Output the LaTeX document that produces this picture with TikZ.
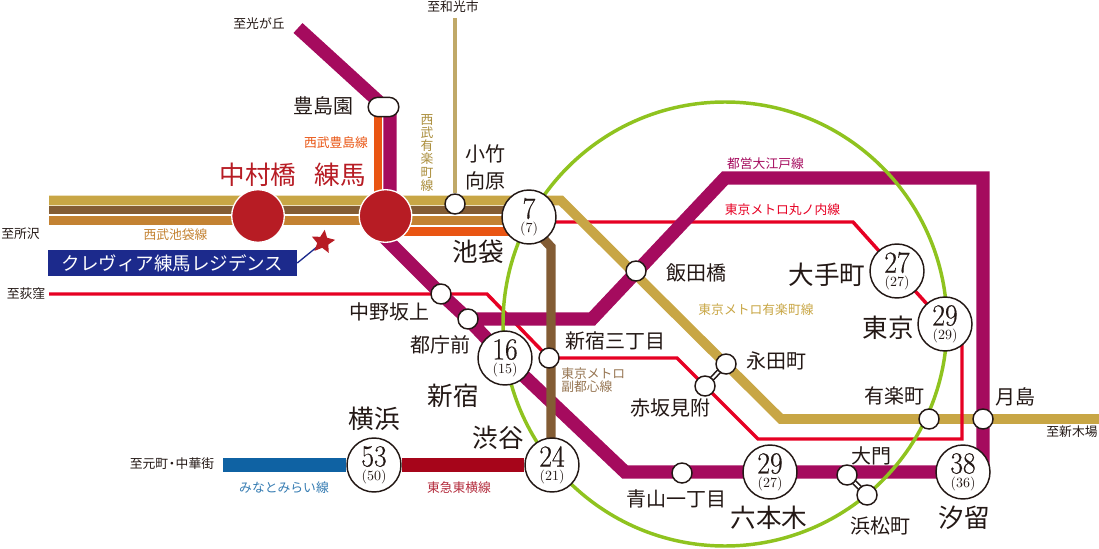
\documentclass[tikz,border=0pt]{standalone}
\usepackage{fontspec}
\usepackage{graphicx}
\usetikzlibrary{shapes.geometric,shapes.misc}
\newfontfamily\cjk{Noto Sans CJK JP}
\newfontfamily\numf{Latin Modern Roman}[FakeBold=0.5]
\definecolor{oedo}{HTML}{A50B5E}
\definecolor{yur}{HTML}{C8A645}
\definecolor{fuku}{HTML}{835C34}
\definecolor{ike}{HTML}{C38232}
\definecolor{toshi}{HTML}{E95513}
\definecolor{maru}{HTML}{E60023}
\definecolor{yama}{HTML}{8FC31F}
\definecolor{mm}{HTML}{0F62A3}
\definecolor{toyoko}{HTML}{A6051A}
\definecolor{hero}{HTML}{B71C24}
\definecolor{boxblue}{HTML}{1C2A8C}
\definecolor{inktxt}{HTML}{231815}
\newcommand{\pxf}[1]{\cjk\fontsize{#1}{#1}\selectfont}
\newcommand{\stnum}[2]{\scalebox{.9}[1]{\numf\fontsize{23}{23}\selectfont #1}\\[-1.6pt]{\fontsize{10.5}{10.5}\selectfont #2}}
\pgfdeclarelayer{lines}
\pgfsetlayers{lines,main}
\tikzset{
  x=.75pt,y=-.75pt,
  bigst/.style={circle,draw=inktxt,line width=1.1pt,fill=white,minimum size=40.5pt,inner sep=0pt,align=center,text=inktxt},
  smallst/.style={circle,draw=inktxt,line width=1.1pt,fill=white,minimum size=15pt,inner sep=0pt},
  herost/.style={circle,draw=white,line width=1pt,fill=hero,minimum size=39.5pt,inner sep=0pt},
  lbla/.style={font=\pxf{19.2},text=inktxt,inner sep=0pt},
  lblb/.style={font=\pxf{15},text=inktxt,inner sep=0pt},
  lblc/.style={font=\pxf{9.6},text=inktxt,inner sep=0pt},
  lnlbl/.style={font=\pxf{9.6},inner sep=0pt},
  linkblack/.style={inktxt,line width=4pt},
  linkwhite/.style={white,line width=1.6pt},
  rail/.style={line join=miter,line cap=butt},
}
\begin{document}
\begin{tikzpicture}
\useasboundingbox (0,0) rectangle (1099,549);
% stations
\node[herost] (nakamura) at (258,216) {};
\node[herost] (nerima) at (385.5,216) {};
\node[bigst] (ikebukuro) at (529,217) {\stnum{7}{(7)}};
\node[bigst] (shinjuku) at (505,358) {\stnum{16}{(15)}};
\node[bigst] (yokohama) at (374,465) {\stnum{53}{(50)}};
\node[bigst] (shibuya) at (552,465) {\stnum{24}{(21)}};
\node[bigst] (otemachi) at (897,271) {\stnum{27}{(27)}};
\node[bigst] (tokyo) at (945,324) {\stnum{29}{(29)}};
\node[bigst] (roppongi) at (770,472) {\stnum{29}{(27)}};
\node[bigst] (shiodome) at (963,472) {\stnum{38}{(36)}};
\node[smallst] (kotake) at (455,204) {};
\node[smallst] (nakano) at (441,294) {};
\node[smallst] (tocho) at (468,319) {};
\node[smallst] (sanchome) at (549,358) {};
\node[smallst] (iidabashi) at (636,271) {};
\node[smallst] (nagatacho) at (726,364) {};
\node[smallst] (akasaka) at (705,386) {};
\node[smallst] (aoyama) at (682,473) {};
\node[smallst] (daimon) at (847,475) {};
\node[smallst] (hamamatsu) at (867,495) {};
\node[smallst] (yurakucho) at (929,419) {};
\node[smallst] (tsukishima) at (983,419) {};
\node[rounded rectangle,draw=inktxt,line width=1.1pt,fill=white,minimum width=23pt,minimum height=14.5pt,inner sep=0pt] (toshimaen) at (383.5,107) {};
% free line ends and bends
\coordinate (ylwW) at (49,200.5);
\coordinate (brnW) at (49,210);
\coordinate (ochW) at (49,220.5);
\coordinate (ylwT) at (561,200.5);
\coordinate (ylwA) at (781,419);
\coordinate (ylwE) at (1099,419);
\coordinate (wako) at (455,18);
\coordinate (hikari) at (298,28);
\coordinate (oeA) at (390,112);
\coordinate (oeB) at (390,205);
\coordinate (oeC) at (380,233);
\coordinate (oeD) at (625,472);
\coordinate (oeE) at (592,319);
\coordinate (oeF) at (725,178);
\coordinate (oeG) at (983,178);
\coordinate (oeH) at (983,472);
\coordinate (orA) at (378,107);
\coordinate (orB) at (378,205);
\coordinate (orC) at (385.5,231.5);
\coordinate (orD) at (529,231.5);
\coordinate (ogikubo) at (49,294);
\coordinate (mrA) at (487,294);
\coordinate (mrB) at (677,358);
\coordinate (mrC) at (758,439);
\coordinate (mrD) at (962,439);
\coordinate (mrE) at (962,324);
\coordinate (mrF) at (853,222);
\coordinate (mrG) at (529,222);
\coordinate (mmW) at (223,465);
\coordinate (fkT) at (538,233);
\coordinate (fkM) at (551,247);
\coordinate (fkB) at (551,465);
\coordinate (yamac) at (725,324);
\node[star,star points=5,star point ratio=2.1,fill=hero,inner sep=0pt,minimum size=18.5pt,rotate=-8] (pin) at (323,242) {};
\node[fill=boxblue,text=white,font=\pxf{13.9},minimum width=186.75pt,minimum height=19.5pt,inner sep=0pt] (hbox) at (172.5,263) {クレヴィア練馬レジデンス};
\begin{pgfonlayer}{lines}
\begin{scope}[rail]
\draw[maru,line width=2.6pt] (mrG) -- (mrF) -- (otemachi.center) -- (tokyo.center);
\draw[yur,line width=7.2pt] (ylwW) -- (ylwT) -- (ylwA) -- (ylwE);
\draw[maru,line width=2.6pt] (ogikubo) -- (mrA) -- (sanchome.center) -- (mrB) -- (mrC) -- (mrD) -- (mrE);
\draw[fuku,line width=6.6pt] (brnW) -- (brnW -| ikebukuro);
\draw[ike,line width=7pt] (ochW) -- (ochW -| ikebukuro);
\draw[toshi,line width=7pt] (orC) -- (orD);
\draw[toshi,line width=6.4pt] (orA) -- (orB);
\draw[yur!75!white!90!black,line width=3.6pt] (wako) -- (kotake);
\draw[oedo,line width=10pt] (hikari) -- (oeA) -- (oeB);
\draw[oedo,line width=10pt] (oeC) -- (nakano.center) -- (tocho.center) -- (shinjuku.center) -- (oeD) -- (shiodome.center) -- (oeH) -- (oeG) -- (oeF) -- (oeE) -- (tocho.center);
\draw[fuku,line width=7pt] (fkT) -- (fkM) -- (fkB);
\draw[mm,line width=10pt] (mmW) -- (yokohama);
\draw[toyoko,line width=10pt] (yokohama) -- (shibuya);
\draw[yama,line width=2.6pt] (yamac) circle[radius=166.5pt];
\draw[linkblack] (daimon.center) -- (hamamatsu.center);
\draw[linkwhite] (daimon.center) -- (hamamatsu.center);
\draw[linkblack] (nagatacho.center) -- (akasaka.center);
\draw[linkwhite] (nagatacho.center) -- (akasaka.center);
\draw[boxblue,line width=1pt] (hbox.east) -- (pin.center);
\end{scope}
\end{pgfonlayer}
% station names
\node[lbla,text=hero] (tnakamura) at (258,175) {中村橋};
\node[lbla,text=hero] (tnerima) at (340.5,175) {練馬};
\node[lblb] (ttoshimaen) at (323,106) {豊島園};
\node[lblb,align=center] (tkotake) at (485,167.5) {小竹\\[5pt]向原};
\node[lbla] (tikebukuro) at (478,252) {池袋};
\node[lblb] (tnakano) at (389.5,312) {中野坂上};
\node[lblb] (ttocho) at (440,345) {都庁前};
\node[lbla] (tshinjuku) at (453.5,396) {新宿};
\node[lbla] (tyokohama) at (374,419) {横浜};
\node[lbla] (tshibuya) at (498,438) {渋谷};
\node[lblb] (tiidabashi) at (696,273) {飯田橋};
\node[lbla] (totemachi) at (827,275) {大手町};
\node[lbla] (ttokyo) at (888,328) {東京};
\node[lblb] (tsanchome) at (615,341) {新宿三丁目};
\node[lblb] (tnagatacho) at (776.5,361) {永田町};
\node[lblb] (takasaka) at (670,408) {赤坂見附};
\node[lblb] (tyurakucho) at (894,396) {有楽町};
\node[lblb] (ttsukishima) at (1015,397) {月島};
\node[lblb] (tdaimon) at (871,456) {大門};
\node[lblb] (taoyama) at (676,499) {青山一丁目};
\node[lbla] (troppongi) at (769,518) {六本木};
\node[lblb] (thamamatsu) at (880,526) {浜松町};
\node[lbla] (tshiodome) at (964,518) {汐留};
% destinations
\node[lblc] (dwako) at (453,7) {至和光市};
\node[lblc] (dhikari) at (259,24) {至光が丘};
\node[lblc] (dtokoro) at (20.5,234) {至所沢};
\node[lblc] (dogi) at (26,294) {至荻窪};
\node[lblc] (dmoto) at (172,464) {至元町\kern-2pt・\kern-2pt中華街};
\node[lblc] (dshinkiba) at (1072,432) {至新木場};
% line names
\node[lnlbl,text=toshi] (ltoshima) at (336,143) {西武豊島線};
\node[lnlbl,text=yur!85!black,align=center] (lseibuyur) at (427,153) {西\\[.2pt]武\\[.2pt]有\\[.2pt]楽\\[.2pt]町\\[.2pt]線};
\node[lnlbl,text=ike] (likebukuro) at (175.5,235) {西武池袋線};
\node[lnlbl,text=oedo] (loedo) at (765.5,164) {都営大江戸線};
\node[lnlbl,text=maru] (lmaru) at (782.5,210) {東京メトロ丸ノ内線};
\node[lnlbl,text=yur] (lyur) at (756,310) {東京メトロ有楽町線};
\node[lnlbl,text=fuku!85!white,align=left,anchor=west] (lfuku) at (561,380) {東京メトロ\\[.5pt]副都心線};
\node[lnlbl,text=mm!85!white] (lmm) at (284,488) {みなとみらい線};
\node[lnlbl,text=toyoko!85!white] (ltoyoko) at (459,488) {東急東横線};
\end{tikzpicture}
\end{document}
